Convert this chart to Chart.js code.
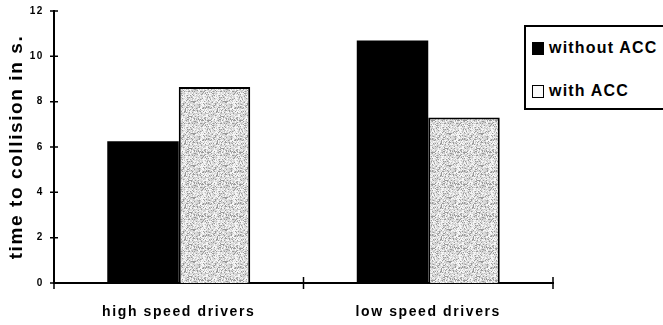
<!DOCTYPE html>
<html>
<head>
<meta charset="utf-8">
<script src="https://cdn.jsdelivr.net/npm/chart.js@4/dist/chart.umd.min.js"></script>
<style>
  html, body { margin: 0; padding: 0; background: #fff; }
  #wrap { position: relative; width: 663px; height: 325px; overflow: hidden; }
  #chart { position: absolute; left: 0; top: 0; }
  #legend {
    position: absolute; left: 524px; top: 25px; width: 160px; height: 81px;
    border: 2px solid #000; border-right: none; background: #fff;
    font: bold 16px "Liberation Sans", Arial, sans-serif; letter-spacing: 1.2px; color: #000;
  }
  #legend .row { position: absolute; left: 6px; display: flex; align-items: center; height: 16px; }
  #legend .sw { width: 12px; height: 13px; margin-right: 5px; box-sizing: border-box; }
</style>
</head>
<body>
<div id="wrap">
  <canvas id="chart" width="663" height="325"></canvas>
  <div id="legend"></div>
</div>
<script>
// time to collision, seconds
const groups = ['high speed drivers', 'low speed drivers'];
const withoutAcc = [6.25, 10.7];
const withAcc = [8.65, 7.3];
const seriesNames = ['without ACC', 'with ACC'];
const yTicks = [0, 2, 4, 6, 8, 10, 12];

const FONT = '"Liberation Sans", Arial, sans-serif';

// speckled light grey fill for the "with ACC" bars
function makeSpeckle() {
  const c = document.createElement('canvas');
  c.width = 32; c.height = 32;
  const g = c.getContext('2d');
  g.fillStyle = '#dadada';
  g.fillRect(0, 0, 32, 32);
  let s = 12345;
  const next = () => { s = (s * 1103515245 + 12345) & 0x7fffffff; return s / 0x7fffffff; };
  for (let y = 0; y < 32; y++) {
    for (let x = 0; x < 32; x++) {
      const r = next();
      if (r < 0.15) g.fillStyle = '#9a9a9a';
      else if (r < 0.3) g.fillStyle = '#c0c0c0';
      else if (r < 0.6) g.fillStyle = '#f6f6f6';
      else continue;
      g.fillRect(x, y, 1, 1);
    }
  }
  return g.createPattern(c, 'repeat');
}

function buildLegend() {
  const el = document.getElementById('legend');
  const swatches = [
    'background:#000;',
    'background:#fafafa;border:1.5px solid #000;'
  ];
  const tops = [13, 56];
  seriesNames.forEach((name, i) => {
    const row = document.createElement('div');
    row.className = 'row';
    row.style.top = tops[i] + 'px';
    row.innerHTML = '<span class="sw" style="' + swatches[i] + '"></span><span>' + name + '</span>';
    el.appendChild(row);
  });
}

// wide tracking on all canvas text
const tracking = {
  id: 'tracking',
  beforeLayout(chart) { chart.ctx.letterSpacing = '1.6px'; },
  beforeDraw(chart) { chart.ctx.letterSpacing = '1.6px'; }
};

// tick marks that cross the axis lines
const crossTicks = {
  id: 'crossTicks',
  afterDraw(chart) {
    const ctx = chart.ctx;
    const x = chart.scales.x, y = chart.scales.y;
    ctx.save();
    ctx.strokeStyle = '#000';
    ctx.lineWidth = 1.5;
    ctx.beginPath();
    yTicks.forEach(v => {
      const py = y.getPixelForValue(v);
      ctx.moveTo(x.left - 4, py);
      ctx.lineTo(x.left + 4, py);
    });
    const bounds = [x.left, x.right];
    for (let i = 0; i < groups.length - 1; i++) {
      bounds.push((x.getPixelForTick(i) + x.getPixelForTick(i + 1)) / 2);
    }
    bounds.forEach(px => {
      ctx.moveTo(px, y.bottom - 6);
      ctx.lineTo(px, y.bottom + 6);
    });
    ctx.stroke();
    ctx.restore();
  }
};

function drawChart() {
  const ctx = document.getElementById('chart').getContext('2d');
  new Chart(ctx, {
    type: 'bar',
    data: {
      labels: groups,
      datasets: [
        {
          label: seriesNames[0],
          data: withoutAcc,
          backgroundColor: '#000',
          borderWidth: 0,
          categoryPercentage: 0.573,
          barPercentage: 1.0
        },
        {
          label: seriesNames[1],
          data: withAcc,
          backgroundColor: makeSpeckle(),
          borderColor: '#000',
          borderWidth: 2,
          categoryPercentage: 0.573,
          barPercentage: 1.0
        }
      ]
    },
    options: {
      responsive: false,
      animation: false,
      devicePixelRatio: 1,
      layout: { padding: { left: 0, right: 110, top: 11, bottom: 0 } },
      plugins: {
        legend: { display: false },
        tooltip: { enabled: false }
      },
      scales: {
        x: {
          grid: { display: false },
          border: { display: true, color: '#000', width: 2 },
          ticks: {
            color: '#000',
            padding: 13,
            font: { family: FONT, size: 14, weight: 'bold' }
          },
          afterFit(scale) { scale.height = 42; }
        },
        y: {
          min: 0,
          max: 12,
          afterBuildTicks(scale) { scale.ticks = yTicks.map(v => ({ value: v })); },
          grid: { display: false },
          border: { display: true, color: '#000', width: 2 },
          ticks: {
            color: '#000',
            padding: 2,
            font: { family: FONT, size: 10, weight: 'bold' }
          },
          title: {
            display: true,
            text: 'time to collision in s.',
            color: '#000',
            padding: { top: 5, bottom: 0 },
            font: { family: FONT, size: 19, weight: 'bold' }
          },
          afterFit(scale) { scale.width = 54; }
        }
      }
    },
    plugins: [tracking, crossTicks]
  });
}

document.addEventListener('DOMContentLoaded', function() {
  buildLegend();
  drawChart();
});
</script>
</body>
</html>
